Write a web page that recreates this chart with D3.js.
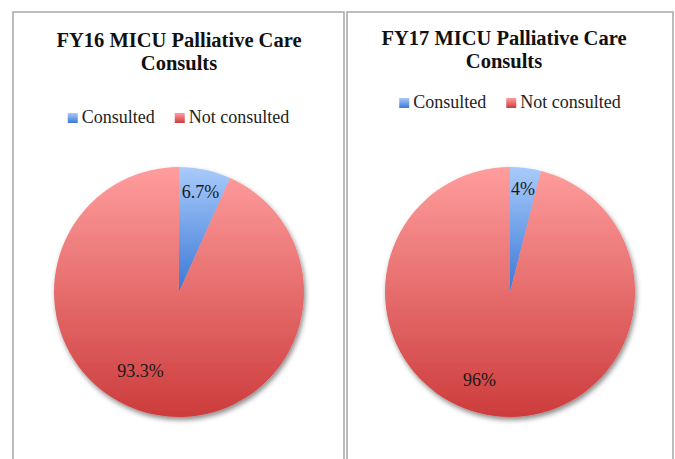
<!DOCTYPE html>
<html>
<head>
<meta charset="utf-8">
<script src="https://cdn.jsdelivr.net/npm/d3@7"></script>
<style>
  html, body { margin: 0; padding: 0; background: #fff; }
  svg { display: block; }
</style>
</head>
<body>
<div id="chart"></div>
<script>
// data
const categories = ['Consulted', 'Not consulted'];
const fy16Title = ['FY16 MICU Palliative Care', 'Consults'];
const fy17Title = ['FY17 MICU Palliative Care', 'Consults'];
const fy16Values = [6.7, 93.3];
const fy17Values = [4, 96];

const width = 675, height = 459;

const svg = d3.select('#chart')
  .append('svg')
  .attr('width', width)
  .attr('height', height);

const defs = svg.append('defs');

// vertical gradients, one per category (per slice bounding box)
const gradStops = [
  ['#a9cbfb', '#3b78d6'],
  ['#ff9d9d', '#cd3c3c']
];
gradStops.forEach(function(s, i) {
  const g = defs.append('linearGradient')
    .attr('id', 'grad' + i)
    .attr('x1', 0).attr('y1', 0)
    .attr('x2', 0).attr('y2', 1);
  g.append('stop').attr('offset', '0%').attr('stop-color', s[0]);
  g.append('stop').attr('offset', '100%').attr('stop-color', s[1]);
});

const shadow = defs.append('filter')
  .attr('id', 'shadow')
  .attr('x', '-10%').attr('y', '-10%')
  .attr('width', '125%').attr('height', '125%');
shadow.append('feDropShadow')
  .attr('dx', 1.5).attr('dy', 3)
  .attr('stdDeviation', 2.5)
  .attr('flood-color', '#000')
  .attr('flood-opacity', 0.45);

const panels = [
  { title: fy16Title, values: fy16Values, x0: 13, x1: 344, titleX: 179, titleY: 47, legendY: 123,
    cx: 179, labelShift: [0, 14], labelR: [0.82, 0.70] },
  { title: fy17Title, values: fy17Values, x0: 347, x1: 673, titleX: 504, titleY: 45, legendY: 108,
    cx: 510, labelShift: [0, 12], labelR: [0.83, 0.74] }
];

const cy = 292, radius = 125, frameTop = 12;
const serif = '"Liberation Serif", "DejaVu Serif", serif';

const pie = d3.pie().sort(null).value(function(d) { return d; });
const arc = d3.arc().innerRadius(0).outerRadius(radius);

panels.forEach(function(p) {
  const g = svg.append('g');

  // panel frame (open at the bottom, runs off the picture)
  g.append('rect')
    .attr('x', p.x0)
    .attr('y', frameTop)
    .attr('width', p.x1 - p.x0)
    .attr('height', height)
    .attr('fill', 'none')
    .attr('stroke', '#a6a6a6')
    .attr('stroke-width', 1.5);

  const midX = (p.x0 + p.x1) / 2;

  // title
  const title = g.append('text')
    .attr('text-anchor', 'middle')
    .attr('font-family', serif)
    .attr('font-weight', 'bold')
    .attr('font-size', '20.5px')
    .attr('fill', '#111');
  p.title.forEach(function(line, i) {
    title.append('tspan')
      .attr('x', p.titleX)
      .attr('y', p.titleY + i * 22.5)
      .text(line);
  });

  // legend
  const leg = g.append('g');
  let lx = 0;
  categories.forEach(function(c, i) {
    leg.append('rect')
      .attr('x', lx)
      .attr('y', -10)
      .attr('width', 10)
      .attr('height', 10)
      .attr('fill', 'url(#grad' + i + ')');
    const t = leg.append('text')
      .attr('x', lx + 14)
      .attr('y', 0)
      .attr('font-family', serif)
      .attr('font-size', '18px')
      .attr('fill', '#222')
      .text(c);
    lx += 14 + t.node().getComputedTextLength() + 20;
  });
  const legW = lx - 20;
  leg.attr('transform', 'translate(' + (midX - legW / 2) + ',' + p.legendY + ')');

  // pie
  const pg = g.append('g')
    .attr('transform', 'translate(' + p.cx + ',' + cy + ')');

  const arcs = pie(p.values);

  pg.append('g')
    .attr('filter', 'url(#shadow)')
    .selectAll('path')
    .data(arcs)
    .enter()
    .append('path')
    .attr('d', arc)
    .attr('fill', function(d, i) { return 'url(#grad' + i + ')'; });

  pg.selectAll('.lbl')
    .data(arcs)
    .enter()
    .append('text')
    .attr('class', 'lbl')
    .attr('transform', function(d, i) {
      const a = (d.startAngle + d.endAngle) / 2 + p.labelShift[i] * Math.PI / 180;
      const r = radius * p.labelR[i];
      return 'translate(' + (Math.sin(a) * r) + ',' + (-Math.cos(a) * r) + ')';
    })
    .attr('text-anchor', 'middle')
    .attr('dy', '0.35em')
    .attr('font-family', serif)
    .attr('font-size', '18px')
    .attr('fill', '#1a1a1a')
    .text(function(d) { return d.data + '%'; });
});
</script>
</body>
</html>
